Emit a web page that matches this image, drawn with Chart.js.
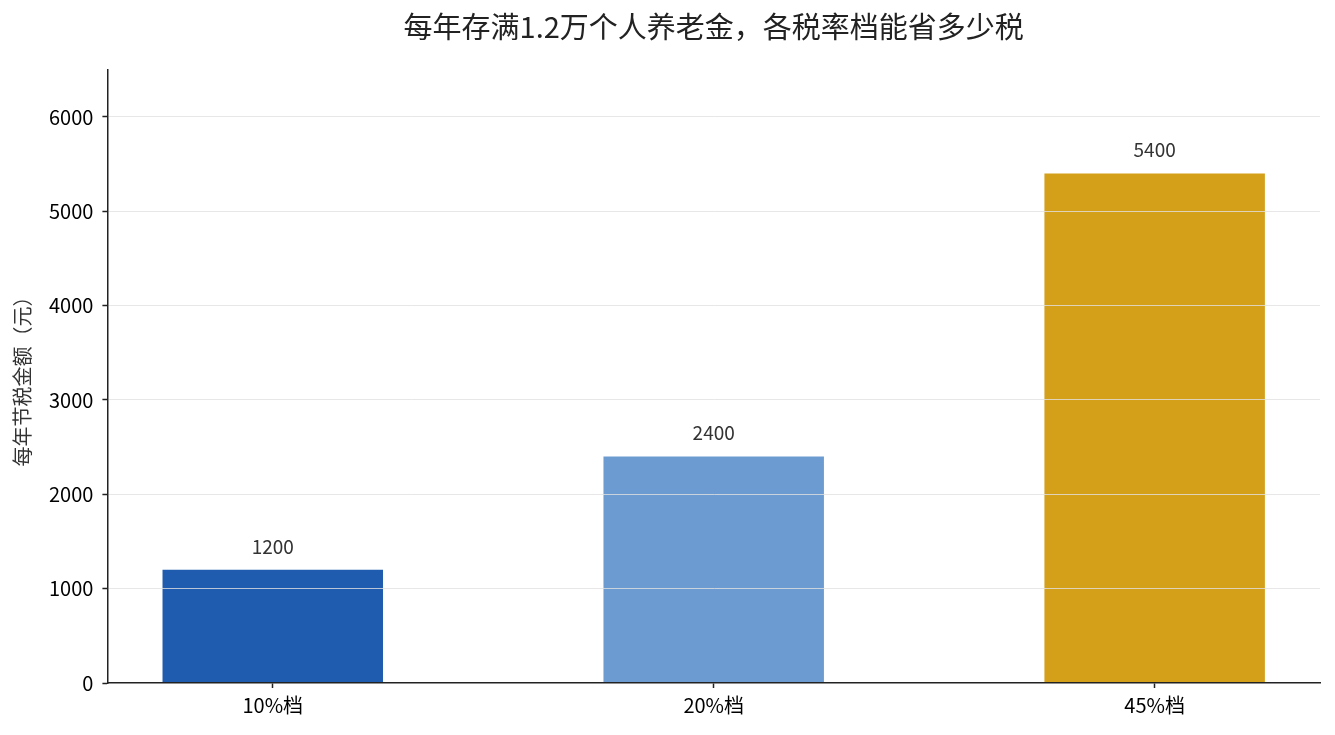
<!DOCTYPE html>
<html>
<head>
<meta charset="utf-8">
<script src="https://cdn.jsdelivr.net/npm/chart.js@4.4.1/dist/chart.umd.min.js"></script>
<style>
  html, body { margin: 0; padding: 0; background: #fff; }
  #wrap { width: 1335px; height: 735px; }
</style>
</head>
<body>
<div id="wrap"><canvas id="myChart"></canvas></div>
<script>
const categories = ['10%档', '20%档', '45%档'];
const savings = [1200, 2400, 5400];
const barColors = ['#1f5bae', '#6c9bd2', '#d4a01a'];
const yTicks = [0, 1000, 2000, 3000, 4000, 5000, 6000];

const fontFamily = '"Noto Sans CJK SC", "Noto Sans", sans-serif';

// value labels above each bar
const valueLabels = {
  id: 'valueLabels',
  afterDatasetsDraw(chart) {
    const ctx = chart.ctx;
    const meta = chart.getDatasetMeta(0);
    ctx.save();
    ctx.font = '19px ' + fontFamily;
    ctx.fillStyle = '#333333';
    ctx.textAlign = 'center';
    ctx.textBaseline = 'bottom';
    meta.data.forEach((bar, i) => {
      ctx.fillText(String(savings[i]), bar.x, bar.y - 14);
    });
    ctx.restore();
  }
};

const ctx = document.getElementById('myChart');
new Chart(ctx, {
  type: 'bar',
  data: {
    datasets: [{
      data: savings.map((v, i) => ({ x: i, y: v })),
      backgroundColor: barColors,
      borderWidth: 0,
      barPercentage: 1,
      categoryPercentage: 0.5
    }]
  },
  options: {
    responsive: true,
    maintainAspectRatio: false,
    animation: false,
    layout: { padding: { left: 10, right: 15, top: 0, bottom: 13 } },
    plugins: {
      legend: { display: false },
      tooltip: { enabled: false },
      title: {
        display: true,
        text: '每年存满1.2万个人养老金，各税率档能省多少税',
        fullSize: false,
        color: '#222222',
        font: { family: fontFamily, size: 29, weight: 'normal' },
        padding: { top: 10, bottom: 25 }
      }
    },
    scales: {
      x: {
        type: 'linear',
        offset: false,
        min: -0.375,
        max: 2.375,
        afterBuildTicks: (scale) => { scale.ticks = categories.map((c, i) => ({ value: i })); },
        ticks: {
          callback: (v) => categories[v],
          color: '#000',
          font: { family: fontFamily, size: 20 },
          padding: 5
        },
        grid: { offset: false, drawOnChartArea: false, drawTicks: true, tickLength: 5, tickColor: '#222', tickWidth: 1.5 },
        border: { display: true, color: '#222', width: 1.5, z: 2 }
      },
      y: {
        min: 0,
        max: 6500,
        afterBuildTicks: (scale) => { scale.ticks = yTicks.map(v => ({ value: v })); },
        ticks: {
          callback: (v) => String(v),
          color: '#000',
          font: { family: fontFamily, size: 20 },
          padding: 9
        },
        grid: {
          z: 1,
          color: (c) => (c.tick && c.tick.value === 0) ? 'rgba(0,0,0,0)' : 'rgba(225,225,225,0.8)',
          lineWidth: 1,
          tickLength: 5,
          tickColor: '#222',
          tickWidth: 1.5
        },
        border: { display: true, color: '#222', width: 1.5, z: 2 },
        title: {
          display: true,
          text: '每年节税金额（元）',
          color: '#333333',
          font: { family: fontFamily, size: 20 },
          padding: { top: 0, bottom: 6 }
        }
      }
    }
  },
  plugins: [valueLabels]
});
</script>
</body>
</html>
